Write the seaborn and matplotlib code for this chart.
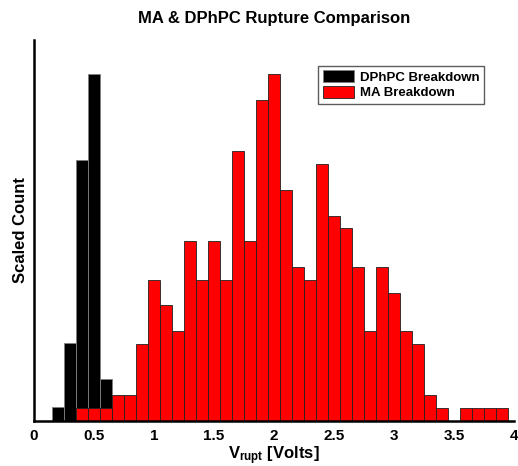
import numpy as np
import pandas as pd
import matplotlib
matplotlib.use('Agg')
import matplotlib.pyplot as plt
import seaborn as sns

# bin centres (Volts), bins are 0.1 V wide
dphpc_centers = [0.2, 0.3, 0.4, 0.5, 0.6]
dphpc_scaled = [0.04, 0.226, 0.754, 1.0, 0.122]

ma_centers = [0.4, 0.5, 0.6, 0.7, 0.8, 0.9, 1.0, 1.1, 1.2, 1.3, 1.4, 1.5, 1.6, 1.7,
              1.8, 1.9, 2.0, 2.1, 2.2, 2.3, 2.4, 2.5, 2.6, 2.7, 2.8, 2.9, 3.0, 3.1,
              3.2, 3.3, 3.4, 3.5, 3.6, 3.7, 3.8, 3.9]
ma_counts = [1, 1, 1, 2, 2, 6, 11, 9, 7, 14, 11, 14, 11, 21,
             14, 25, 27, 18, 12, 11, 20, 16, 15, 12, 7, 12, 10, 7,
             6, 2, 1, 0, 1, 1, 1, 1]

xticks = [0, 0.5, 1, 1.5, 2, 2.5, 3, 3.5, 4]
xtick_labels = ['0', '0.5', '1', '1.5', '2', '2.5', '3', '3.5', '4']

ma_scaled = np.array(ma_counts) / max(ma_counts)

df_d = pd.DataFrame({'v': dphpc_centers, 'w': dphpc_scaled})
df_m = pd.DataFrame({'v': ma_centers, 'w': ma_scaled})

sns.set_style('white')
plt.rcParams['font.family'] = ['Liberation Sans', 'DejaVu Sans']
plt.rcParams['font.weight'] = 'bold'
plt.rcParams['text.color'] = 'black'
plt.rcParams['axes.labelcolor'] = 'black'
plt.rcParams['xtick.color'] = 'black'
plt.rcParams['mathtext.fontset'] = 'custom'
plt.rcParams['mathtext.bf'] = 'Liberation Sans:bold'
plt.rcParams['mathtext.rm'] = 'Liberation Sans:bold'
plt.rcParams['mathtext.default'] = 'bf'

fig = plt.figure(figsize=(5.18, 4.66), dpi=100)
ax = fig.add_axes([0.0656, 0.0966, 0.9264, 0.818])

sns.histplot(data=df_d, x='v', weights='w', binwidth=0.1, binrange=(0.15, 0.65),
             color='black', edgecolor='#808080', linewidth=0.6, alpha=1,
             label='DPhPC Breakdown', ax=ax)
sns.histplot(data=df_m, x='v', weights='w', binwidth=0.1, binrange=(0.35, 3.95),
             color='red', edgecolor='#202020', linewidth=0.6, alpha=1,
             label='MA Breakdown', ax=ax)

ax.set_xlim(0, 4)
ax.set_ylim(0, 1.1)
ax.set_xticks(xticks)
ax.set_xticklabels(xtick_labels, fontsize=11, fontweight='bold')
ax.set_yticks([])
ax.tick_params(axis='x', direction='in', length=4, width=1.5, pad=6)
for s in ['top', 'right']:
    ax.spines[s].set_visible(False)
for s in ['left', 'bottom']:
    ax.spines[s].set_linewidth(1.8)
    ax.spines[s].set_color('black')

ax.set_title('MA & DPhPC Rupture Comparison', fontsize=12, fontweight='bold', pad=12)
ax.set_xlabel(r'V$_{rupt}$ [Volts]', fontsize=12, fontweight='bold', labelpad=1)
ax.set_ylabel('Scaled Count', fontsize=12, fontweight='bold', labelpad=4)

leg = ax.legend(loc='upper right', bbox_to_anchor=(0.9375, 0.932), fontsize=9.5,
                frameon=True, fancybox=False, edgecolor='#333333',
                handlelength=2.4, handleheight=1.0, handletextpad=0.4,
                borderpad=0.35, labelspacing=0.15, borderaxespad=0)
leg.get_frame().set_linewidth(1.0)
for t in leg.get_texts():
    t.set_fontweight('bold')

fig.savefig('out.png', dpi=100)
